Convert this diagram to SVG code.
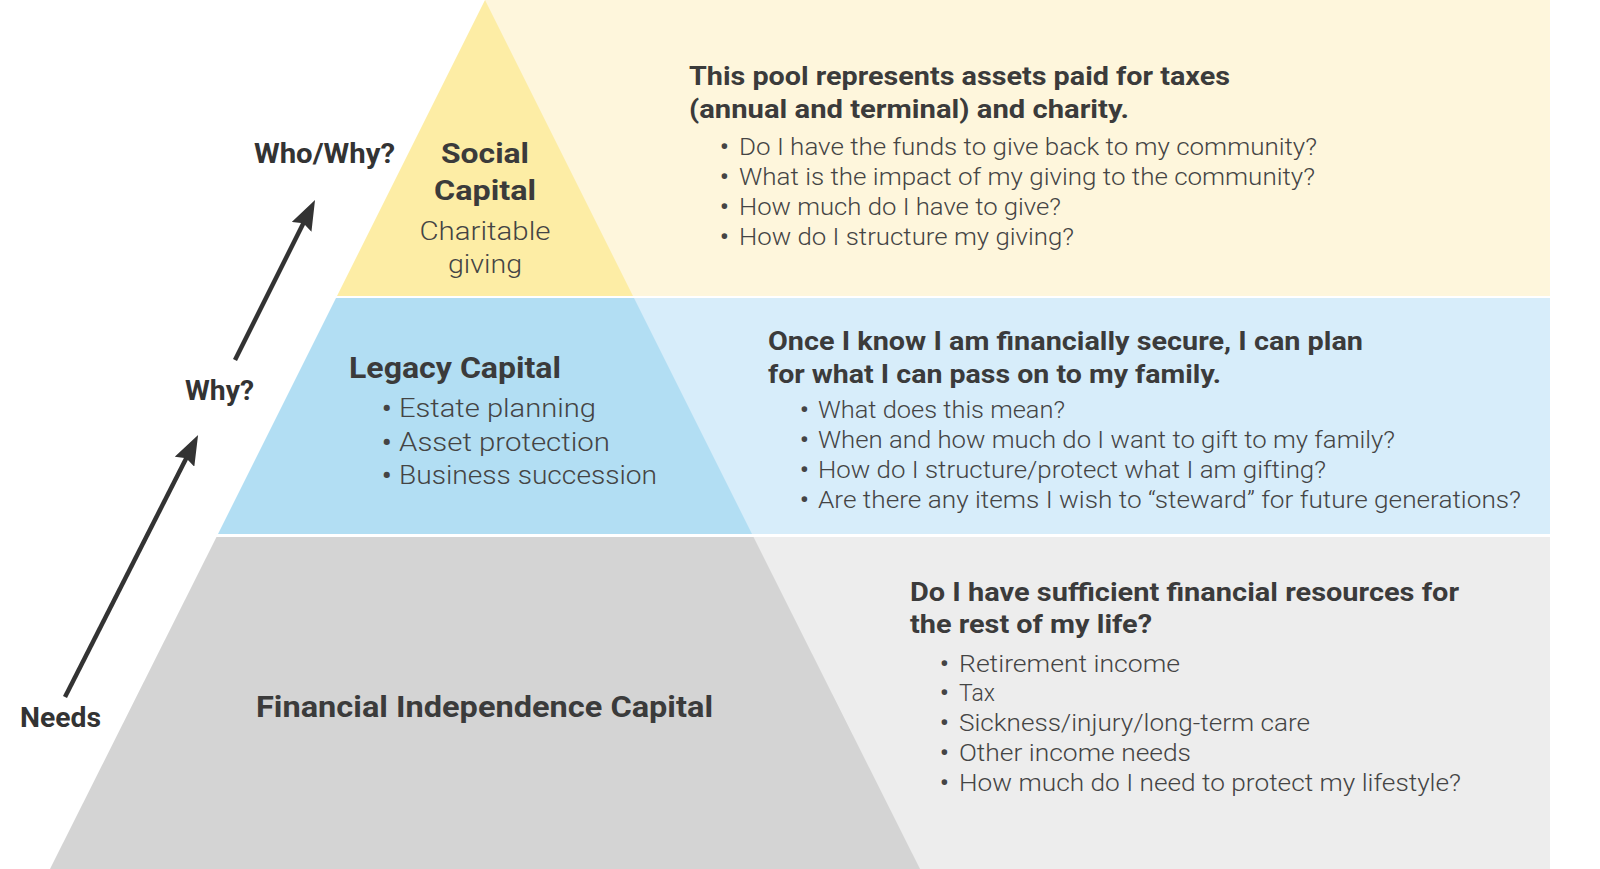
<svg xmlns="http://www.w3.org/2000/svg" width="1600" height="869" viewBox="0 0 1600 869">
<defs>
<style>
.h{font-family:Roboto,"Liberation Sans",sans-serif;font-weight:700;fill:#3b3b3b}
.b{font-family:Roboto,"Liberation Sans",sans-serif;font-weight:300;fill:#444444}
.dot{font-weight:700}
.lab{font-family:Roboto,"Liberation Sans",sans-serif;font-weight:700;fill:#333333;font-size:27px}
.arr{stroke:#333333;stroke-width:4.5;fill:none}
</style>
<marker id="ah" viewBox="0 0 30 22" refX="21" refY="11" markerWidth="30" markerHeight="22" markerUnits="userSpaceOnUse" orient="auto">
<path d="M0,0 L30,11 L0,22 L4,11 z" fill="#333333"/>
</marker>
</defs>
<rect width="1600" height="869" fill="#ffffff"/>

<g id="social">
<rect x="485" y="0" width="1065" height="296" fill="#FEF6DC"/>
<polygon points="485,0 633,296 337,296" fill="#FDEDA5"/>
<text class="h" x="485" y="163" font-size="28" text-anchor="middle" textLength="88" lengthAdjust="spacingAndGlyphs">Social</text>
<text class="h" x="485" y="200" font-size="28" text-anchor="middle" textLength="102" lengthAdjust="spacingAndGlyphs">Capital</text>
<text class="b" x="485" y="240" font-size="26" text-anchor="middle" textLength="131" lengthAdjust="spacingAndGlyphs">Charitable</text>
<text class="b" x="485" y="273" font-size="26" text-anchor="middle" textLength="74" lengthAdjust="spacingAndGlyphs">giving</text>
<text class="h" x="689" y="85" font-size="26" textLength="541" lengthAdjust="spacingAndGlyphs">This pool represents assets paid for taxes</text>
<text class="h" x="689" y="118" font-size="26" textLength="440" lengthAdjust="spacingAndGlyphs">(annual and terminal) and charity.</text>
<g class="b" font-size="24">
<text class="dot" x="720" y="155">•</text><text x="739" y="155" textLength="578" lengthAdjust="spacingAndGlyphs">Do I have the funds to give back to my community?</text>
<text class="dot" x="720" y="185">•</text><text x="739" y="185" textLength="576" lengthAdjust="spacingAndGlyphs">What is the impact of my giving to the community?</text>
<text class="dot" x="720" y="215">•</text><text x="739" y="215" textLength="322" lengthAdjust="spacingAndGlyphs">How much do I have to give?</text>
<text class="dot" x="720" y="245">•</text><text x="739" y="245" textLength="335" lengthAdjust="spacingAndGlyphs">How do I structure my giving?</text>
</g>
</g>

<g id="legacy">
<rect x="485" y="298" width="1065" height="236" fill="#D7EDFA"/>
<polygon points="336,298 634,298 752,534 218,534" fill="#B2DEF3"/>
<text class="h" x="349" y="378" font-size="29" textLength="212" lengthAdjust="spacingAndGlyphs">Legacy Capital</text>
<g class="b" font-size="26">
<text class="dot" x="382" y="417">•</text><text x="399" y="417" textLength="197" lengthAdjust="spacingAndGlyphs">Estate planning</text>
<text class="dot" x="382" y="451">•</text><text x="399" y="451" textLength="211" lengthAdjust="spacingAndGlyphs">Asset protection</text>
<text class="dot" x="382" y="484">•</text><text x="399" y="484" textLength="258" lengthAdjust="spacingAndGlyphs">Business succession</text>
</g>
<text class="h" x="768" y="350" font-size="26" textLength="595" lengthAdjust="spacingAndGlyphs">Once I know I am financially secure, I can plan</text>
<text class="h" x="768" y="383" font-size="26" textLength="453" lengthAdjust="spacingAndGlyphs">for what I can pass on to my family.</text>
<g class="b" font-size="24">
<text class="dot" x="800" y="418">•</text><text x="818" y="418" textLength="247" lengthAdjust="spacingAndGlyphs">What does this mean?</text>
<text class="dot" x="800" y="448">•</text><text x="818" y="448" textLength="577" lengthAdjust="spacingAndGlyphs">When and how much do I want to gift to my family?</text>
<text class="dot" x="800" y="478">•</text><text x="818" y="478" textLength="508" lengthAdjust="spacingAndGlyphs">How do I structure/protect what I am gifting?</text>
<text class="dot" x="800" y="508">•</text><text x="818" y="508" textLength="703" lengthAdjust="spacingAndGlyphs">Are there any items I wish to “steward” for future generations?</text>
</g>
</g>

<g id="financial">
<rect x="485" y="537" width="1065" height="332" fill="#EDEDED"/>
<polygon points="216.5,537 753.5,537 920,869 50,869" fill="#D4D4D4"/>
<text class="h" x="256" y="717" font-size="29" textLength="457" lengthAdjust="spacingAndGlyphs">Financial Independence Capital</text>
<text class="h" x="910" y="601" font-size="26" textLength="549" lengthAdjust="spacingAndGlyphs">Do I have sufficient financial resources for</text>
<text class="h" x="910" y="633" font-size="26" textLength="242" lengthAdjust="spacingAndGlyphs">the rest of my life?</text>
<g class="b" font-size="24">
<text class="dot" x="940" y="672">•</text><text x="959" y="672" textLength="221" lengthAdjust="spacingAndGlyphs">Retirement income</text>
<text class="dot" x="940" y="701">•</text><text x="959" y="701" textLength="36" lengthAdjust="spacingAndGlyphs">Tax</text>
<text class="dot" x="940" y="731">•</text><text x="959" y="731" textLength="351" lengthAdjust="spacingAndGlyphs">Sickness/injury/long-term care</text>
<text class="dot" x="940" y="761">•</text><text x="959" y="761" textLength="232" lengthAdjust="spacingAndGlyphs">Other income needs</text>
<text class="dot" x="940" y="791">•</text><text x="959" y="791" textLength="502" lengthAdjust="spacingAndGlyphs">How much do I need to protect my lifestyle?</text>
</g>
</g>

<g id="labels">
<text id="who-why" class="lab" x="254" y="163" textLength="141" lengthAdjust="spacingAndGlyphs">Who/Why?</text>
<text id="why" class="lab" x="185" y="400" textLength="69" lengthAdjust="spacingAndGlyphs">Why?</text>
<text id="needs" class="lab" x="20" y="727" textLength="81" lengthAdjust="spacingAndGlyphs">Needs</text>
</g>

<g id="connectors">
<line class="arr" x1="235" y1="360" x2="311" y2="208" marker-end="url(#ah)"/>
<line class="arr" x1="65" y1="697" x2="194" y2="443" marker-end="url(#ah)"/>
</g>
</svg>
